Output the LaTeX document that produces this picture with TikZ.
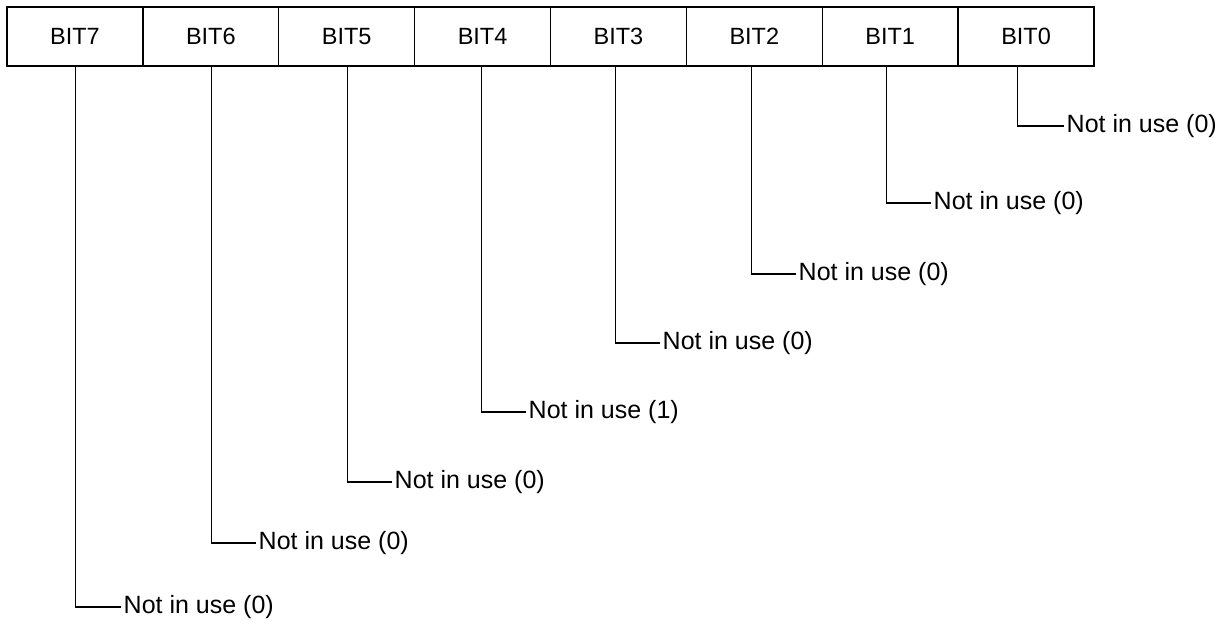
\documentclass[tikz,border=0pt]{standalone}
\usepackage{fontspec}
\setmainfont{Liberation Sans}
\begin{document}
\begin{tikzpicture}[x=1pt,y=-1pt,
  bitbox/.style={draw, line width=1.3pt, minimum width=135.875pt, minimum height=59pt, inner sep=0pt,
    font=\fontsize{23.5}{28}\selectfont},
  lbl/.style={anchor=west, inner xsep=2.5pt, inner ysep=0pt, font=\fontsize{25}{30}\selectfont},
  conn/.style={line width=1.1pt}]
\useasboundingbox (0,0) rectangle (1230,624);
\foreach \i/\n in {0/7,1/6,2/5,3/4,4/3,5/2,6/1,7/0}{
  \node[bitbox] (b\n) at ({7+135.875*(\i+0.5)},36.5) {BIT\n};
}
% labels
\node[lbl] (t0) at (1064,126) {Not in use (0)};
\node[lbl] (t1) at (931,203) {Not in use (0)};
\node[lbl] (t2) at (796,274) {Not in use (0)};
\node[lbl] (t3) at (660,343) {Not in use (0)};
\node[lbl] (t4) at (526,412) {Not in use (1)};
\node[lbl] (t5) at (392,482) {Not in use (0)};
\node[lbl] (t6) at (256,543) {Not in use (0)};
\node[lbl] (t7) at (121,607) {Not in use (0)};
% connectors
\draw[conn] (b0.south) ++(-8.5,0) |- (t0.west);
\draw[conn] (b1.south) ++(-4,0) |- (t1.west);
\draw[conn] (b2.south) ++(-3,0) |- (t2.west);
\draw[conn] (b3.south) ++(-3,0) |- (t3.west);
\draw[conn] (b4.south) ++(-1,0) |- (t4.west);
\draw[conn] (b5.south) ++(1,0) |- (t5.west);
\draw[conn] (b6.south) ++(1,0) |- (t6.west);
\draw[conn] (b7.south) ++(1,0) |- (t7.west);
\end{tikzpicture}
\end{document}
